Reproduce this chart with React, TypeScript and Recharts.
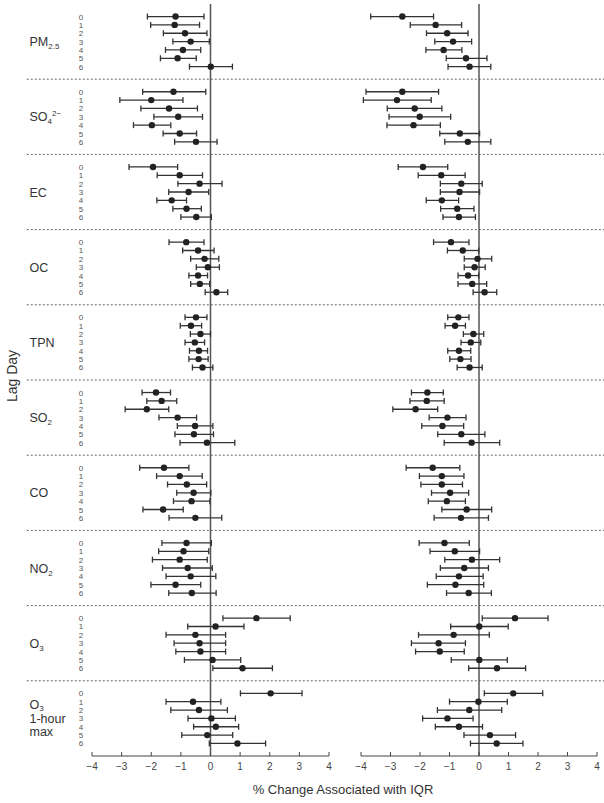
import { ScatterChart, Scatter, XAxis, YAxis, ErrorBar, ReferenceLine } from "recharts";

const pollutants = ["PM2.5", "SO42-", "EC", "OC", "TPN", "SO2", "CO", "NO2", "O3", "O3 1-hour max"];
const lags = [0, 1, 2, 3, 4, 5, 6];
const xTicks = [-4, -3, -2, -1, 0, 1, 2, 3, 4];

// left panel
const leftEstimate = [
  [-1.18, -1.21, -0.86, -0.67, -0.93, -1.11, 0.01],
  [-1.25, -2.0, -1.4, -1.09, -1.98, -1.04, -0.49],
  [-1.94, -1.04, -0.37, -0.74, -1.31, -0.81, -0.48],
  [-0.82, -0.42, -0.2, -0.09, -0.42, -0.36, 0.2],
  [-0.49, -0.66, -0.34, -0.53, -0.39, -0.4, -0.27],
  [-1.84, -1.65, -2.15, -1.11, -0.52, -0.56, -0.12],
  [-1.57, -1.04, -0.8, -0.57, -0.64, -1.6, -0.51],
  [-0.81, -0.91, -1.04, -0.77, -0.67, -1.18, -0.63],
  [1.55, 0.17, -0.51, -0.37, -0.34, 0.07, 1.08],
  [2.03, -0.59, -0.39, 0.03, 0.18, -0.11, 0.91],
];
const leftLower = [
  [-2.13, -2.02, -1.59, -1.27, -1.52, -1.69, -0.71],
  [-2.29, -3.06, -2.35, -1.91, -2.6, -1.6, -1.21],
  [-2.75, -1.8, -1.1, -1.41, -1.81, -1.27, -1.0],
  [-1.4, -0.94, -0.67, -0.48, -0.73, -0.67, -0.18],
  [-0.86, -1.02, -0.68, -0.86, -0.71, -0.73, -0.61],
  [-2.31, -2.15, -2.88, -1.74, -1.12, -1.2, -1.03],
  [-2.39, -1.82, -1.45, -1.14, -1.25, -2.28, -1.4],
  [-1.64, -1.75, -1.96, -1.62, -1.5, -2.01, -1.41],
  [0.42, -0.77, -1.5, -1.23, -1.17, -0.88, 0.08],
  [1.01, -1.5, -1.34, -0.76, -0.57, -0.97, -0.04],
];
const leftUpper = [
  [-0.22, -0.37, -0.12, -0.04, -0.33, -0.48, 0.74],
  [-0.16, -0.93, -0.44, -0.27, -1.34, -0.47, 0.22],
  [-1.11, -0.27, 0.39, -0.06, -0.81, -0.31, 0.03],
  [-0.22, 0.12, 0.28, 0.3, -0.1, -0.03, 0.58],
  [-0.12, -0.3, 0.0, -0.2, -0.1, -0.08, 0.08],
  [-1.35, -1.14, -1.41, -0.47, 0.08, 0.1, 0.82],
  [-0.73, -0.28, -0.13, 0.01, -0.02, -0.92, 0.38],
  [0.03, -0.06, -0.11, 0.06, 0.18, -0.33, 0.19],
  [2.69, 1.13, 0.51, 0.51, 0.51, 1.02, 2.09],
  [3.09, 0.35, 0.57, 0.84, 0.95, 0.75, 1.86],
];

// right panel
const rightEstimate = [
  [-2.6, -1.47, -1.08, -0.88, -1.2, -0.44, -0.32],
  [-2.6, -2.78, -2.18, -2.01, -2.22, -0.65, -0.38],
  [-1.9, -1.28, -0.6, -0.66, -1.26, -0.74, -0.68],
  [-0.95, -0.55, -0.05, -0.15, -0.37, -0.23, 0.19],
  [-0.7, -0.81, -0.19, -0.28, -0.68, -0.63, -0.32],
  [-1.75, -1.77, -2.15, -1.07, -1.24, -0.6, -0.25],
  [-1.57, -1.26, -1.26, -0.98, -1.09, -0.42, -0.61],
  [-1.17, -0.82, -0.24, -0.5, -0.68, -0.8, -0.35],
  [1.22, 0.01, -0.86, -1.37, -1.33, 0.01, 0.61],
  [1.16, -0.02, -0.33, -1.07, -0.68, 0.37, 0.6],
];
const rightLower = [
  [-3.67, -2.33, -1.78, -1.5, -1.8, -1.11, -1.05],
  [-3.83, -3.92, -3.11, -3.05, -3.12, -1.33, -1.16],
  [-2.74, -2.06, -1.31, -1.31, -1.79, -1.3, -1.22],
  [-1.54, -1.07, -0.5, -0.5, -0.71, -0.71, -0.2],
  [-1.06, -1.15, -0.53, -0.61, -1.06, -0.99, -0.74],
  [-2.29, -2.34, -2.92, -1.69, -1.94, -1.4, -1.18],
  [-2.47, -2.02, -1.97, -1.61, -1.72, -1.26, -1.52],
  [-2.03, -1.66, -1.16, -1.31, -1.45, -1.75, -1.1],
  [0.11, -0.96, -2.05, -2.29, -2.15, -0.94, -0.35],
  [0.18, -1.0, -1.41, -1.91, -1.48, -0.51, -0.29],
];
const rightUpper = [
  [-1.54, -0.59, -0.37, -0.25, -0.58, 0.27, 0.4],
  [-1.37, -1.62, -1.26, -0.96, -1.31, 0.02, 0.4],
  [-1.06, -0.47, 0.11, 0.02, -0.69, -0.17, -0.12],
  [-0.34, -0.01, 0.43, 0.21, -0.01, 0.26, 0.6],
  [-0.34, -0.46, 0.16, 0.06, -0.28, -0.27, 0.11],
  [-1.21, -1.18, -1.4, -0.44, -0.52, 0.2, 0.7],
  [-0.65, -0.51, -0.56, -0.35, -0.46, 0.43, 0.32],
  [-0.33, 0.02, 0.7, 0.32, 0.14, 0.16, 0.42],
  [2.34, 0.99, 0.35, -0.46, -0.5, 0.96, 1.58],
  [2.16, 0.96, 0.77, -0.2, 0.12, 1.24, 1.49],
];

const GROUP = 9;
const font = '"Liberation Sans", Arial, Helvetica, sans-serif';
const rowPos = (g: number, lag: number) => g * GROUP + 1.5 + lag;

const buildRows = (est: number[][], lo: number[][], hi: number[][]) =>
  pollutants.flatMap((_, g) =>
    lags.map((lag, i) => ({
      row: rowPos(g, lag),
      est: est[g][i],
      ci: [est[g][i] - lo[g][i], hi[g][i] - est[g][i]],
    }))
  );

const leftRows = buildRows(leftEstimate, leftLower, leftUpper);
const rightRows = buildRows(rightEstimate, rightLower, rightUpper);
const yTicks = pollutants.flatMap((_, g) => lags.map((lag) => rowPos(g, lag)));
const separators = pollutants.slice(1).map((_, i) => (i + 1) * GROUP);

const sub = { fontSize: 8 };

const PollutantName = ({ g, y }: { g: number; y: number }) => {
  const x = 29.5;
  const base = { x, fontSize: 12.5, fill: "#333", fontFamily: font };
  const by = y + 4.5;
  switch (g) {
    case 0:
      return (
        <text {...base} y={by}>
          PM<tspan {...sub} dy={3}>2.5</tspan>
        </text>
      );
    case 1:
      return (
        <text {...base} y={by}>
          SO<tspan {...sub} dy={3}>4</tspan>
          <tspan {...sub} dy={-8}>2−</tspan>
        </text>
      );
    case 5:
    case 7:
      return (
        <text {...base} y={by}>
          {g === 5 ? "SO" : "NO"}
          <tspan {...sub} dy={3}>2</tspan>
        </text>
      );
    case 8:
      return (
        <text {...base} y={by}>
          O<tspan {...sub} dy={3}>3</tspan>
        </text>
      );
    case 9:
      return (
        <g>
          <text {...base} y={by - 14}>
            O<tspan {...sub} dy={2}>3</tspan>
          </text>
          <text {...base} y={by}>1-hour</text>
          <text {...base} y={by + 13.5}>max</text>
        </g>
      );
    default:
      return (
        <text {...base} y={by}>
          {pollutants[g]}
        </text>
      );
  }
};

const LagTick = (props: any) => {
  const { x, y, payload } = props;
  const v = payload.value as number;
  const g = Math.floor(v / GROUP);
  const lag = Math.round(v - g * GROUP - 1.5);
  return (
    <g>
      <text x={x - 11} y={y + 3} textAnchor="middle" fontSize={8} fill="#555" fontFamily={font}>
        {lag}
      </text>
      {lag === 3 && <PollutantName g={g} y={y} />}
    </g>
  );
};

const XTick = (props: any) => {
  const { x, y, payload } = props;
  const v = payload.value as number;
  return (
    <g>
      <line x1={x} x2={x} y1={y - 4} y2={y} stroke="#444" strokeWidth={1} />
      <text x={x} y={y + 14} textAnchor="middle" fontSize={10} fill="#444" fontFamily={font}>
        {v < 0 ? `−${Math.abs(v)}` : v}
      </text>
    </g>
  );
};

const Dot = (p: any) => <circle cx={p.cx} cy={p.cy} r={3.2} fill="#222" />;

const Panel = ({ rows, side }: { rows: any[]; side: "left" | "right" }) => {
  const isLeft = side === "left";
  const margin = isLeft
    ? { top: 4, right: 275, bottom: 17, left: 0 }
    : { top: 4, right: 7, bottom: 17, left: 361 };
  return (
    <div style={{ position: "absolute", left: 0, top: 0 }}>
      <ScatterChart width={604} height={803} margin={margin}>
        <XAxis
          type="number"
          dataKey="est"
          domain={[-4, 4]}
          ticks={xTicks}
          interval={0}
          height={30}
          tickSize={0}
          tickMargin={0}
          tick={<XTick />}
          axisLine={{ stroke: "#444", strokeWidth: 1.2 }}
          allowDataOverflow
        />
        <YAxis
          type="number"
          dataKey="row"
          domain={[0, pollutants.length * GROUP]}
          reversed
          hide={!isLeft}
          width={92}
          ticks={yTicks}
          interval={0}
          tickSize={0}
          tickMargin={0}
          axisLine={false}
          tick={<LagTick />}
        />
        {isLeft &&
          separators.map((s) => (
            <ReferenceLine
              key={s}
              segment={[
                { x: -6.2, y: s },
                { x: 13.3, y: s },
              ]}
              ifOverflow="visible"
              stroke="#666"
              strokeWidth={1}
              strokeDasharray="2 2"
            />
          ))}
        <ReferenceLine x={0} stroke="#555" strokeWidth={1.5} />
        <Scatter data={rows} isAnimationActive={false} shape={<Dot />}>
          <ErrorBar dataKey="ci" direction="x" width={3} stroke="#333" strokeWidth={1.3} />
        </Scatter>
      </ScatterChart>
    </div>
  );
};

export default function App() {
  return (
    <div
      style={{
        position: "absolute",
        left: 0,
        top: 0,
        width: 604,
        height: 803,
        background: "#fff",
        fontFamily: font,
      }}
    >
      <Panel rows={leftRows} side="left" />
      <Panel rows={rightRows} side="right" />
      <div
        style={{
          position: "absolute",
          left: 12,
          top: 376,
          transform: "translate(-50%, -50%) rotate(-90deg)",
          fontSize: 14,
          color: "#333",
          whiteSpace: "nowrap",
        }}
      >
        Lag Day
      </div>
      <div
        style={{
          position: "absolute",
          left: 0,
          width: 686,
          top: 782,
          textAlign: "center",
          fontSize: 13,
          color: "#333",
          whiteSpace: "nowrap",
        }}
      >
        % Change Associated with IQR
      </div>
    </div>
  );
}
